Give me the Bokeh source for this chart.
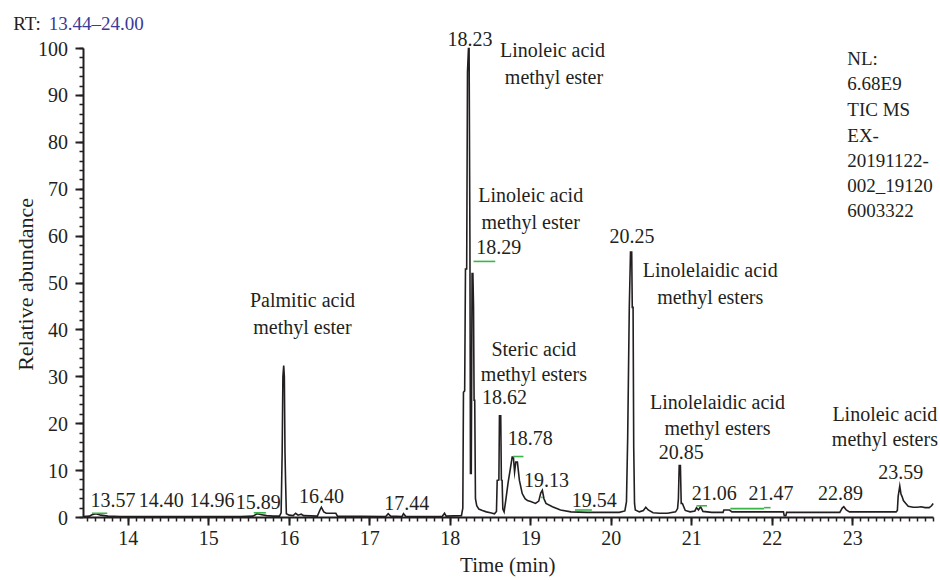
import math
from bokeh.plotting import figure
from bokeh.models import ColumnDataSource, Range1d, FixedTicker, LabelSet, Label
from bokeh.embed import file_html
from bokeh.resources import INLINE

# ---------------- data ----------------
TIME = [13.44, 13.52, 13.55, 13.60, 13.66, 13.75, 13.90, 14.20, 14.60, 15.00, 15.40,
        15.55, 15.60, 15.66, 15.72, 15.80, 15.88, 15.90, 15.913, 15.922, 15.932, 15.940,
        15.948, 15.955, 15.965, 16.00, 16.05, 16.08, 16.11, 16.15, 16.18, 16.35, 16.38,
        16.40, 16.43, 16.46, 16.58, 16.60, 17.20, 17.23, 17.26, 17.40, 17.42, 17.45,
        17.90, 17.93, 17.95, 18.14, 18.157, 18.165, 18.18, 18.19, 18.205, 18.215, 18.227,
        18.235, 18.245, 18.252, 18.262, 18.272, 18.282, 18.29, 18.297, 18.305, 18.314,
        18.33, 18.356, 18.40, 18.45, 18.50, 18.55, 18.575, 18.584, 18.605, 18.612, 18.628,
        18.636, 18.645, 18.654, 18.67, 18.69, 18.72, 18.75, 18.77, 18.785, 18.80, 18.815,
        18.835, 18.86, 18.895, 18.93, 18.96, 19.00, 19.06, 19.10, 19.125, 19.145, 19.165,
        19.19, 19.27, 19.37, 19.50, 19.70, 19.90, 20.10, 20.17, 20.19, 20.205, 20.225,
        20.24, 20.255, 20.262, 20.272, 20.28, 20.29, 20.30, 20.35, 20.40, 20.43, 20.46,
        20.52, 20.60, 20.70, 20.80, 20.825, 20.835, 20.845, 20.86, 20.87, 20.885, 20.92,
        20.98, 21.04, 21.06, 21.085, 21.11, 21.14, 21.25, 21.39, 21.40, 21.47, 21.50,
        21.80, 22.14, 22.15, 22.17, 22.18, 22.50, 22.84, 22.87, 22.89, 22.92, 22.96,
        23.30, 23.54, 23.555, 23.565, 23.585, 23.60, 23.615, 23.63, 23.66, 23.69, 23.75,
        23.80, 23.85, 23.90, 23.95, 23.98, 24.00]
ABUND = [0.2, 0.3, 0.6, 0.8, 0.5, 0.3, 0.2, 0.2, 0.2, 0.2, 0.2,
         0.3, 0.8, 0.6, 0.4, 0.3, 0.3, 1.0, 13.9, 30.0, 32.4, 30.0,
         13.9, 7.9, 0.8, 0.5, 0.4, 0.9, 0.5, 0.7, 0.4, 0.3, 1.5,
         2.2, 1.2, 0.9, 0.9, 0.3, 0.2, 0.8, 0.3, 0.2, 0.8, 0.2,
         0.2, 0.9, 0.3, 0.4, 2.0, 26.7, 27.0, 53.0, 53.0, 95.0, 100.0,
         100.0, 60.0, 9.4, 9.4, 52.0, 52.0, 45.0, 25.0, 25.0, 4.0,
         2.5, 1.8, 1.5, 1.2, 1.0, 0.8, 1.3, 7.9, 8.0, 21.7, 21.7,
         8.0, 7.9, 1.8, 1.2, 3.6, 7.5, 10.7, 12.9, 12.9, 9.7, 11.8,
         11.8, 7.9, 5.1, 4.0, 3.6, 3.4, 3.0, 3.5, 5.2, 5.8, 4.0,
         3.0, 2.3, 1.6, 1.2, 1.1, 1.1, 1.1, 1.4, 3.4, 17.0, 44.8,
         56.6, 56.6, 44.8, 44.8, 15.0, 3.0, 1.6, 1.2, 1.5, 2.2, 1.6,
         1.0, 0.9, 0.9, 1.2, 1.9, 4.0, 11.1, 11.1, 3.0, 3.0, 1.5,
         1.2, 1.4, 2.1, 1.6, 2.3, 1.3, 1.1, 1.1, 1.6, 1.6, 1.2,
         1.2, 1.2, 0.4, 0.4, 1.1, 1.1, 1.1, 2.0, 2.3, 1.6, 1.2,
         1.2, 1.2, 1.5, 4.5, 6.7, 5.0, 4.4, 3.6, 3.0, 2.4, 2.2,
         2.2, 2.3, 2.1, 2.1, 2.5, 3.0]

# green integration baselines
GREEN_T0 = [13.55, 15.56, 18.29, 18.78, 19.13, 19.55, 21.06, 21.48, 21.90]
GREEN_T1 = [13.74, 15.71, 18.56, 18.91, 19.15, 19.76, 21.19, 21.90, 21.98]
GREEN_Y = [0.9, 1.0, 54.6, 13.0, 4.3, 1.6, 2.5, 1.9, 2.1]

# peak retention-time labels
PEAK_TEXT = ["13.57", "14.40", "14.96", "15.89", "16.40", "17.44", "18.23", "18.29",
             "18.62", "18.78", "19.13", "19.54", "20.25", "20.85", "21.06", "21.47",
             "22.89", "23.59"]

# compound annotations
COMPOUND_TEXT = ["Palmitic acid", "methyl ester",
                 "Linoleic acid", "methyl ester",
                 "Linoleic acid", "methyl ester",
                 "Steric acid", "methyl esters",
                 "Linolelaidic acid", "methyl esters",
                 "Linolelaidic acid", "methyl esters",
                 "Linoleic acid", "methyl esters"]

INFO_TEXT = ["NL:", "6.68E9", "TIC MS", "EX-", "20191122-", "002_19120", "6003322"]

X_TICKS = [14, 15, 16, 17, 18, 19, 20, 21, 22, 23]
Y_TICKS = [0, 10, 20, 30, 40, 50, 60, 70, 80, 90, 100]
T_START, T_END = 13.44, 24.00
RT_PREFIX = "RT:"
RT_RANGE = "13.44\u201324.00"
X_LABEL = "Time (min)"
Y_LABEL = "Relative abundance"

# ---------------- layout / positions of annotations (data units) ----------------
W, H = 940, 578
X0_PX, PX_PER_MIN = 82.6, 80.5     # canvas x of T_START, pixels per minute
Y0_PX, PX_PER_UNIT = 517.0, 4.69   # canvas y of abundance 0, pixels per % unit

PEAK_X = [13.81, 14.41, 15.04, 15.615, 16.40, 17.46, 18.246, 18.604,
          18.675, 18.994, 19.197, 19.79, 20.26, 20.87, 21.28, 21.985,
          22.85, 23.596]
PEAK_Y = [3.8, 3.8, 3.8, 3.3, 4.5, 3.1, 102.1, 57.6,
          25.6, 17.0, 8.1, 3.8, 60.1, 13.9, 5.3, 5.3,
          5.3, 9.7]
COMP_X = [16.165, 16.165, 19.27, 19.29, 19.00, 19.00, 19.04, 19.04,
          21.23, 21.23, 21.32, 21.32, 23.40, 23.40]
COMP_Y = [46.3, 40.7, 99.6, 94.0, 68.7, 63.0, 36.0, 30.6,
          52.7, 47.0, 24.6, 19.1, 22.1, 16.8]
INFO_X = 22.933
INFO_Y = [97.9, 92.5, 87.0, 81.4, 76.1, 70.8, 65.5]
RT_X, RT_RANGE_X, RT_Y = 12.572, 13.014, 105.3
XLAB_X, XLAB_Y = 18.716, -10.2
YLAB_X, YLAB_Y = 12.724, 49.7

FONT = "Liberation Serif"
INK = "#231f20"
GREEN = "#3ab54a"
BLUE = "#3a3a98"

x_lo = T_START - X0_PX / PX_PER_MIN
x_hi = T_START + (W - X0_PX) / PX_PER_MIN
y_lo = -(H - Y0_PX) / PX_PER_UNIT
y_hi = Y0_PX / PX_PER_UNIT

p = figure(width=W, height=H, output_backend="svg", toolbar_location=None,
           x_range=Range1d(x_lo, x_hi), y_range=Range1d(y_lo, y_hi),
           min_border=0, min_border_left=0, min_border_right=0,
           min_border_top=0, min_border_bottom=0)
p.outline_line_color = None
p.grid.visible = False
p.background_fill_color = "white"
p.border_fill_color = "white"

p.line(TIME, ABUND, line_color=INK, line_width=1.6, line_join="miter")
p.segment(x0=GREEN_T0, y0=GREEN_Y, x1=GREEN_T1, y1=GREEN_Y, line_color=GREEN, line_width=1.6)

# axes drawn at fixed positions inside the frame
for ax in (p.xaxis[0], p.yaxis[0]):
    ax.axis_line_color = INK
    ax.axis_line_width = 2
    ax.major_tick_line_color = INK
    ax.major_tick_line_width = 2
    ax.minor_tick_line_color = INK
    ax.minor_tick_line_width = 1.5
    ax.major_tick_in = 0
    ax.major_tick_out = 8
    ax.minor_tick_in = 0
    ax.minor_tick_out = 4
    ax.major_label_text_font = FONT
    ax.major_label_text_font_size = "20px"
    ax.major_label_text_color = INK

p.xaxis.fixed_location = 0
p.yaxis.fixed_location = T_START
p.xaxis.bounds = (T_START, T_END)
p.yaxis.bounds = (Y_TICKS[0], Y_TICKS[-1])
p.xaxis.ticker = FixedTicker(ticks=X_TICKS,
                             minor_ticks=[round(13.5 + 0.1 * i, 2) for i in range(106)])
p.yaxis.ticker = FixedTicker(ticks=Y_TICKS, minor_ticks=list(range(0, 101, 2)))
p.xaxis.major_label_standoff = 5
p.yaxis.major_label_standoff = 7

def labels(xs, ys, texts, align, size, color=INK):
    src = ColumnDataSource(dict(x=xs, y=ys, text=texts))
    p.add_layout(LabelSet(x="x", y="y", text="text", source=src,
                          text_font=FONT, text_font_size=size, text_color=color,
                          text_align=align, text_baseline="middle"))

labels(PEAK_X, PEAK_Y, PEAK_TEXT, "center", "20px")
labels(COMP_X, COMP_Y, COMPOUND_TEXT, "center", "20px")
labels([INFO_X] * len(INFO_TEXT), INFO_Y, INFO_TEXT, "left", "19px")

p.add_layout(Label(x=RT_X, y=RT_Y, text=RT_PREFIX, text_font=FONT, text_font_size="19px",
                   text_color=INK, text_align="left", text_baseline="middle"))
p.add_layout(Label(x=RT_RANGE_X, y=RT_Y, text=RT_RANGE, text_font=FONT, text_font_size="19px",
                   text_color=BLUE, text_align="left", text_baseline="middle"))
p.add_layout(Label(x=XLAB_X, y=XLAB_Y, text=X_LABEL, text_font=FONT, text_font_size="21px",
                   text_color=INK, text_align="center", text_baseline="middle"))
p.add_layout(Label(x=YLAB_X, y=YLAB_Y, text=Y_LABEL, text_font=FONT, text_font_size="22px",
                   text_color=INK, text_align="center", text_baseline="middle",
                   angle=math.pi / 2))

open("out.html", "w").write(file_html(p, INLINE))
